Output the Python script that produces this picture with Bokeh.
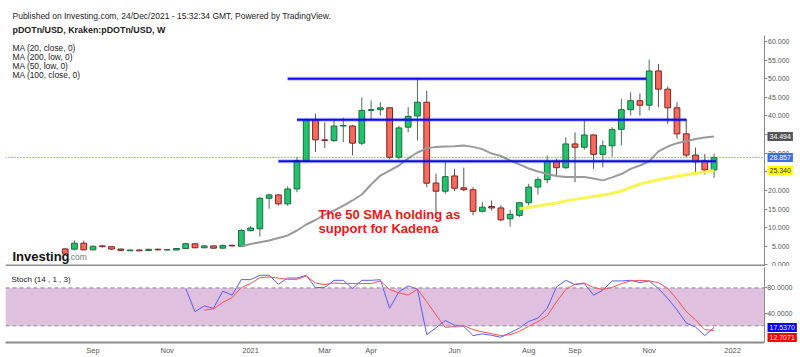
import pandas as pd
from bokeh.plotting import figure
from bokeh.layouts import column, row
from bokeh.models import (Range1d, FixedTicker, Label, Span, ColumnDataSource,
                          BoxAnnotation, NumeralTickFormatter)
from bokeh.embed import file_html
from bokeh.resources import INLINE

# ---------------- data ----------------
first_week = "2020-08-17"   # weekly bars (Mondays)
opens = [4.3, 4.22, 5.83, 4.05, 5.1, 4.9, 4.25, 3.8, 4.0, 3.85,
         4.2, 4.0, 4.0, 4.4, 5.67, 4.6, 5.1, 4.5, 5.25, 5.0,
         9.2, 9.7, 17.9, 18.8, 16.4, 20.4, 28.0, 39.0, 33.6, 33.4,
         37.3, 37.3, 32.7, 41.5, 41.7, 42.2, 28.9, 37.0, 40.0, 43.7,
         22.0, 19.8, 23.9, 20.7, 20.2, 14.4, 15.7, 15.3, 12.4, 13.3,
         16.7, 20.9, 22.9, 27.8, 26.1, 32.5, 31.6, 34.9, 29.7, 32.0,
         36.4, 41.7, 44.1, 42.9, 52.1, 47.2, 42.2, 35.2, 29.5, 27.9,
         25.5]
highs = [4.5, 6.55, 6.55, 5.2, 5.4, 5.0, 4.4, 4.1, 4.1, 4.3,
         4.4, 4.2, 4.5, 5.9, 5.8, 5.3, 5.2, 5.5, 5.5, 9.7,
         10.4, 18.2, 19.1, 19.0, 21.1, 28.9, 39.3, 40.6, 38.3, 39.2,
         39.5, 37.6, 45.0, 44.2, 43.7, 42.4, 37.4, 42.4, 49.8, 46.8,
         24.5, 28.0, 25.8, 26.1, 20.9, 16.9, 17.3, 16.0, 14.8, 16.9,
         21.8, 23.6, 29.4, 28.5, 34.3, 35.6, 38.8, 35.0, 33.4, 37.0,
         44.6, 46.4, 46.1, 55.1, 54.0, 47.9, 43.7, 39.2, 31.5, 29.8,
         29.9]
lows = [2.9, 3.9, 3.9, 3.9, 4.7, 4.0, 3.7, 3.7, 3.65, 3.7,
        3.9, 3.9, 3.95, 4.3, 4.5, 4.5, 4.4, 4.4, 5.0, 4.9,
        9.0, 7.6, 15.1, 15.9, 15.9, 19.5, 27.5, 30.3, 31.4, 33.0,
        33.0, 29.4, 32.2, 39.2, 40.1, 28.3, 28.3, 35.6, 33.4, 20.9,
        13.8, 19.1, 19.8, 19.8, 13.3, 14.1, 14.6, 11.7, 10.3, 12.9,
        16.0, 18.9, 21.9, 23.7, 25.8, 22.2, 30.9, 25.8, 26.2, 29.1,
        32.1, 40.1, 40.1, 41.5, 42.4, 37.9, 33.9, 28.9, 24.9, 24.3,
        23.4]
closes = [3.0, 5.83, 4.05, 5.0, 4.9, 4.25, 3.9, 4.0, 3.8, 4.2,
          4.05, 4.1, 4.4, 5.7, 4.6, 5.1, 4.5, 5.2, 5.1, 9.24,
          9.9, 17.9, 18.8, 16.4, 20.4, 28.0, 39.0, 33.6, 33.4, 37.3,
          37.45, 32.7, 41.5, 41.7, 42.2, 28.9, 36.8, 39.9, 43.7, 21.95,
          19.8, 23.7, 20.6, 20.2, 14.4, 15.5, 15.3, 12.1, 13.6, 16.7,
          20.9, 22.9, 27.8, 26.1, 32.5, 31.6, 34.9, 29.7, 32.0, 36.4,
          41.7, 44.1, 42.9, 52.1, 47.2, 42.2, 35.2, 29.5, 27.7, 25.5,
          28.857]

# MA(20, close) from bar 19, MA(50, low) from bar 49
ma20_first = 19
ma20 = [4.94, 5.61, 6.07, 6.55, 7.23, 7.90, 9.24, 10.85, 12.06, 13.54,
        14.61, 15.95, 17.30, 18.91, 21.6, 24.0, 25.35, 26.7, 28.6, 30.2,
        31.3, 31.7, 31.8, 31.9, 32.1, 31.7, 31.1, 29.9, 29.25, 28.0,
        27.0, 25.9, 25.1, 24.4, 23.9, 23.6, 23.6, 23.6, 23.2, 22.7,
        23.5, 24.4, 25.8, 26.7, 27.8, 30.5, 31.8, 32.7, 33.3, 33.8,
        34.2, 34.494]
ma50_first = 49
ma50 = [15.07, 15.4, 15.8, 16.2, 16.6, 17.2, 17.6, 18.0, 18.4, 18.8,
        19.2, 19.85, 20.8, 21.7, 22.3, 22.85, 23.35, 23.8, 24.2, 24.6,
        24.95, 25.34]

# Stochastic (14, 1, 3)
stoch_k_first = 13
stoch_k = [79, 42.5, 51.4, 47.8, 74.8, 68.6,
           93.1, 93.1, 100, 100, 85.8, 95.6, 95.6, 100, 80.6, 80.6,
           92, 92, 79, 92, 92, 93, 47.8, 73.8, 83.1, 78,
           6.1, 17, 28.4, 21, 19.1, 4.5, 7.2, 5.0, 1.9, 9,
           16.6, 26.9, 32.2, 47.8, 81.6, 92, 85.3, 86.9, 68.6, 76.4,
           91, 91, 92, 88.4, 91, 79, 63.4, 45.2, 24.4, 18.1,
           4.5, 17.537]
stoch_d_first = 15
stoch_d = [45, 46.7, 57.2, 64.4,
           80.6, 86.9, 96.2, 97.2, 95.6, 93.6, 93.6, 98.8, 87.8, 85.3,
           87.8, 86.9, 86.9, 86.9, 86.9, 91, 77.5, 72.2, 68.6, 78,
           58.1, 37.3, 17.5, 19, 20.6, 13.9, 10.3, 7.7, 4.5, 6.1,
           11.3, 19.1, 26.9, 35.8, 58.1, 77.5, 85.8, 87.8, 80.6, 77.5,
           80.6, 86.9, 91, 92, 91, 88.4, 79, 61.9, 42.5, 29.5,
           13.9, 12.7071]

# horizontal drawn levels (price, from-bar, to-bar)
level_prices = [50.0, 39.0, 27.85]
level_from = [24.0, 25.0, 23.0]
level_to = [62.7, 67.0, 70.2]

last_price = 28.857

tick_dates = ["2020-09-07", "2020-11-02", "2021-01-04", "2021-03-01", "2021-04-05",
              "2021-06-07", "2021-08-02", "2021-09-06", "2021-11-01", "2022-01-03"]
tick_labels = ["Sep", "Nov", "2021", "Mar", "Apr", "Jun", "Aug", "Sep", "Nov", "2022"]
price_ticks = [0, 5, 10, 15, 20, 25, 30, 35, 40, 45, 50, 55, 60]
stoch_ticks = [40, 80]

# ---------------- helpers ----------------
FONT = "Liberation Sans"
dates = pd.date_range(first_week, periods=len(opens), freq="7D")
d0 = dates[0]


def ms(ts):
    return pd.Timestamp(ts).value / 1e6


def bar_time(k):
    return d0 + pd.Timedelta(days=7 * k)


def clean(p):
    p.xgrid.visible = False
    p.ygrid.visible = False
    p.outline_line_color = None
    p.background_fill_color = "white"
    p.border_fill_color = "white"


def clabel(p, x, y, text, size, color="#222222", style="normal"):
    p.add_layout(Label(x=x, y=y, x_units="canvas", y_units="canvas", text=text,
                       text_font=FONT, text_font_size=size, text_color=color,
                       text_font_style=style, text_baseline="alphabetic"))


def flag(p, yval, text, bg, fg="white"):
    p.add_layout(Label(x=3, y=yval, x_units="canvas", y_units="data", text=text,
                       text_font=FONT, text_font_size="7px", text_color=fg,
                       text_baseline="middle", background_fill_color=bg,
                       padding=2))


def side_axis(pax, ticks, fmt, standoff):
    a = pax.yaxis[0]
    a.ticker = FixedTicker(ticks=ticks)
    a.formatter = NumeralTickFormatter(format=fmt)
    a.axis_line_color = "#8a8a8a"
    a.major_tick_line_color = "#8a8a8a"
    a.major_tick_out = 0
    a.major_tick_in = 3
    a.minor_tick_line_color = None
    a.major_label_text_font = FONT
    a.major_label_text_font_size = "7px"
    a.major_label_text_color = "#555555"
    a.major_label_standoff = standoff


xr = Range1d(ms(bar_time(-6.44)), ms(bar_time(75.44)))

UP_FILL, UP_LINE = "#21c46d", "#1d6b40"
DN_FILL, DN_LINE = "#f8695e", "#7d2520"

inc = [c >= o for o, c in zip(opens, closes)]
src = ColumnDataSource(dict(
    date=dates,
    high=highs, low=lows,
    top=[max(o, c) for o, c in zip(opens, closes)],
    bottom=[min(o, c) for o, c in zip(opens, closes)],
    fill=[UP_FILL if u else DN_FILL for u in inc],
    line=[UP_LINE if u else DN_LINE for u in inc],
    wick=["#4d6e5a" if u else "#5f5050" for u in inc],
))

common = dict(output_backend="svg", toolbar_location=None)

HEAD = 35      # header strip height
MAIN = 231     # main panel height

# ---------------- header ----------------
ph = figure(width=800, height=HEAD, x_range=Range1d(0, 800), y_range=Range1d(0, HEAD),
            x_axis_location=None, y_axis_location=None,
            min_border_left=0, min_border_right=0, min_border_top=0, min_border_bottom=0,
            **common)
clean(ph)
clabel(ph, 12, 15.5, "Published on Investing.com, 24/Dec/2021 - 15:32:34 GMT, Powered by TradingView.", "8.5px")
clabel(ph, 12, 29.0, "pDOTn/USD, Kraken:pDOTn/USD, W", "8.9px", style="bold")

# ---------------- main panel ----------------
yr1 = Range1d(-0.43, 61.62)
p1 = figure(width=764, height=MAIN, x_range=xr, y_range=yr1,
            x_axis_location=None, y_axis_location=None,
            min_border_left=5, min_border_right=0, min_border_top=0, min_border_bottom=0,
            **common)
clean(p1)

p1.segment(x0="date", y0="low", x1="date", y1="high", source=src,
           line_color="wick", line_width=1)
p1.vbar(x="date", width=0.62 * 7 * 86400000, top="top", bottom="bottom", source=src,
        fill_color="fill", line_color="line", line_width=1)

p1.line([bar_time(ma20_first + i) for i in range(len(ma20))], ma20,
        line_color="#9a9a9a", line_width=2)
p1.line([bar_time(ma50_first + i) for i in range(len(ma50))], ma50,
        line_color="#f7f43c", line_width=3, line_alpha=0.9)

lx0 = [bar_time(f) for f in level_from]
lx1 = [bar_time(t) for t in level_to]
p1.segment(x0=lx0, y0=level_prices, x1=lx1, y1=level_prices,
           line_color="#3030ff", line_width=4, line_alpha=0.3)
p1.segment(x0=lx0, y0=level_prices, x1=lx1, y1=level_prices,
           line_color="#0a0aee", line_width=2)

p1.add_layout(Span(location=last_price, dimension="width", line_color="#4a6fe0",
                   line_dash="1 2", line_width=1))
p1.add_layout(Span(location=-0.16, dimension="width", line_color="#8c8c8c", line_width=2))

for yy, t in zip([47.3, 56.2, 65.1, 74.0],
                 ["MA (20, close, 0)", "MA (200, low, 0)", "MA (50, low, 0)", "MA (100, close, 0)"]):
    clabel(p1, 12, yy - HEAD, t, "8.4px")

clabel(p1, 12, 256 - HEAD, "Investing", "13px", color="#111111", style="bold")
clabel(p1, 68, 256 - HEAD, ".com", "8.5px", color="#777777")

clabel(p1, 318, 214.3 - HEAD, "The 50 SMA holding as", "13px", color="#f01616", style="bold")
clabel(p1, 318, 228.3 - HEAD, "support for Kadena", "13px", color="#f01616", style="bold")

# right price scale
pa1 = figure(width=36, height=MAIN, x_range=Range1d(0, 1), y_range=yr1,
             x_axis_location=None, y_axis_location="left",
             min_border_left=0, min_border_right=0, min_border_top=0, min_border_bottom=0,
             **common)
clean(pa1)
side_axis(pa1, price_ticks, "0.000", -25)
flag(pa1, ma20[-1], "34.494", "#555555")
flag(pa1, last_price, "28.857", "#3d6de0")
flag(pa1, ma50[-1], "25.340", "#ffff00", fg="#333333")

# ---------------- stochastic panel ----------------
yr2 = Range1d(-6.4, 112.3)
p2 = figure(width=764, height=91, x_range=xr, y_range=yr2,
            y_axis_location=None,
            min_border_left=5, min_border_right=0, min_border_top=1, min_border_bottom=14,
            **common)
clean(p2)

p2.add_layout(BoxAnnotation(bottom=20, top=80, fill_color="#dfc0df", fill_alpha=1,
                            line_color=None, level="underlay"))
for lv in (20, 80):
    p2.add_layout(Span(location=lv, dimension="width", line_color="#8a8a8a",
                       line_dash="4 3", line_width=1))

p2.line([bar_time(stoch_k_first + i) for i in range(len(stoch_k))], stoch_k,
        line_color="#5a5aff", line_width=1)
p2.line([bar_time(stoch_d_first + i) for i in range(len(stoch_d))], stoch_d,
        line_color="#ff4f4f", line_width=1)

axx = p2.xaxis[0]
tick_ms = [int(ms(t)) for t in tick_dates]
axx.ticker = FixedTicker(ticks=tick_ms)
axx.major_label_overrides = {t: lab for t, lab in zip(tick_ms, tick_labels)}
axx.axis_line_color = "#8c8c8c"
axx.axis_line_width = 2
axx.major_tick_out = 0
axx.major_tick_in = 0
axx.minor_tick_line_color = None
axx.major_label_text_font = FONT
axx.major_label_text_font_size = "7.5px"
axx.major_label_text_color = "#555555"
axx.major_label_standoff = 3

clabel(p2, 11, 13.3, "Stoch (14 , 1 , 3)", "8px")

pa2 = figure(width=36, height=91, x_range=Range1d(0, 1), y_range=yr2,
             x_axis_location=None, y_axis_location="left",
             min_border_left=0, min_border_right=0, min_border_top=1, min_border_bottom=14,
             **common)
clean(pa2)
side_axis(pa2, stoch_ticks, "0.0000", -28)
flag(pa2, stoch_k[-1], "17.5370", "#0000ff")
flag(pa2, 1.4, "12.7071", "#ff0000")

layout = column(ph, row(p1, pa1, spacing=0), row(p2, pa2, spacing=0), spacing=0)
open("out.html", "w").write(file_html(layout, INLINE))
